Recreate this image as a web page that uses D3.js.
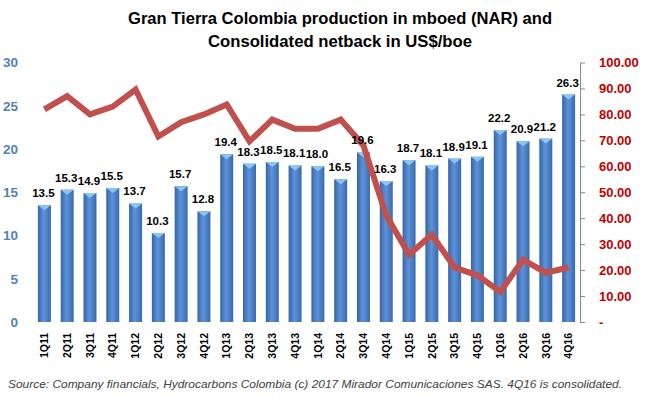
<!DOCTYPE html>
<html>
<head>
<meta charset="utf-8">
<script src="https://cdn.jsdelivr.net/npm/d3@7"></script>
<style>
  html, body { margin: 0; padding: 0; background: #fff; }
  svg { display: block; }
</style>
</head>
<body>
<svg id="chart" width="649" height="397"></svg>
<script>
const quarters = ["1Q11","2Q11","3Q11","4Q11","1Q12","2Q12","3Q12","4Q12","1Q13","2Q13","3Q13","4Q13",
                  "1Q14","2Q14","3Q14","4Q14","1Q15","2Q15","3Q15","4Q15","1Q16","2Q16","3Q16","4Q16"];
const production = [13.5,15.3,14.9,15.5,13.7,10.3,15.7,12.8,19.4,18.3,18.5,18.1,
                    18.0,16.5,19.6,16.3,18.7,18.1,18.9,19.1,22.2,20.9,21.2,26.3];
const netback = [81.9,87.0,80.0,83.0,89.6,71.5,77.0,80.0,83.8,69.6,78.0,74.5,
                 74.5,78.0,68.0,41.0,26.0,33.6,21.0,18.0,11.6,24.0,19.0,21.0];
const leftTicks = [0,5,10,15,20,25,30];
const rightTicks = [0,10,20,30,40,50,60,70,80,90,100];
const titleLines = ["Gran Tierra Colombia production in mboed (NAR) and", "Consolidated netback in US$/boe"];
const footnote = "Source:  Company financials, Hydrocarbons  Colombia (c) 2017 Mirador  Comunicaciones SAS. 4Q16 is consolidated.";

const svg = d3.select("#chart");
const plot = {left: 33, right: 580, top: 62.5, bottom: 322};

const x = d3.scaleBand().domain(quarters).range([plot.left, plot.right])
  .paddingInner(0.43).paddingOuter(0.215);
const yL = d3.scaleLinear().domain([0, 30]).range([plot.bottom, plot.top]);
const yR = d3.scaleLinear().domain([0, 100]).range([plot.bottom, plot.top]);

// gradient for bars
const defs = svg.append("defs");
const grad = defs.append("linearGradient").attr("id", "barGrad").attr("x1", "0").attr("x2", "1").attr("y1", "0").attr("y2", "0");
grad.append("stop").attr("offset", "0%").attr("stop-color", "#3565A8");
grad.append("stop").attr("offset", "45%").attr("stop-color", "#5E92D8");
grad.append("stop").attr("offset", "100%").attr("stop-color", "#3A6AAE");

// title
svg.append("g").selectAll("text").data(titleLines).join("text")
  .attr("x", 340).attr("y", (d, i) => 24 + i * 23)
  .attr("text-anchor", "middle")
  .attr("font-family", "'Liberation Sans', Arial, sans-serif")
  .attr("font-weight", "bold").attr("font-size", 16.5)
  .attr("textLength", (d, i) => i === 0 ? 424 : 264)
  .attr("lengthAdjust", "spacingAndGlyphs")
  .attr("fill", "#000")
  .text(d => d);

// bars
const bw = x.bandwidth();
svg.append("g").selectAll("rect").data(production).join("rect")
  .attr("x", (d, i) => x(quarters[i]))
  .attr("y", d => yL(d))
  .attr("width", bw)
  .attr("height", d => yL(0) - yL(d))
  .attr("fill", "url(#barGrad)");

// top bevel caps
svg.append("g").selectAll("path").data(production).join("path")
  .attr("d", (d, i) => {
    const x0 = x(quarters[i]), top = yL(d);
    return `M${x0},${top}L${x0 + bw},${top}L${x0 + bw / 2},${top + 5}Z`;
  })
  .attr("fill", "#8CC6F0");

// line
const line = d3.line()
  .x((d, i) => x(quarters[i]) + bw / 2)
  .y(d => yR(d));
svg.append("path").datum(netback)
  .attr("d", line)
  .attr("fill", "none")
  .attr("stroke", "#C0504D")
  .attr("stroke-width", 6)
  .attr("stroke-linejoin", "miter");

// bar labels
svg.append("g").selectAll("text").data(production).join("text")
  .attr("x", (d, i) => x(quarters[i]) + bw / 2 - 1)
  .attr("y", d => yL(d) - 8)
  .attr("text-anchor", "middle")
  .attr("font-family", "'Liberation Sans', Arial, sans-serif")
  .attr("font-weight", "bold").attr("font-size", 11.5)
  .attr("fill", "#000")
  .text(d => d.toFixed(1));

// left axis (labels only)
const leftAxis = d3.axisLeft(yL).tickValues(leftTicks).tickSize(0).tickPadding(0).tickFormat(d3.format("d"));
const gL = svg.append("g").attr("transform", "translate(18,0)").call(leftAxis);
gL.select(".domain").remove();
gL.selectAll("text")
  .attr("font-family", "'Liberation Sans', Arial, sans-serif")
  .attr("font-weight", "bold").attr("font-size", 13.5)
  .attr("fill", "#4F81BD");

// right axis
const rightAxis = d3.axisRight(yR).tickValues(rightTicks).tickSizeInner(5).tickSizeOuter(0).tickPadding(14)
  .tickFormat(d => d === 0 ? "-" : d3.format(".2f")(d));
const gR = svg.append("g").attr("transform", `translate(${plot.right},0)`).call(rightAxis);
gR.select(".domain").attr("stroke", "#888");
gR.selectAll(".tick line").attr("stroke", "#888");
gR.selectAll("text")
  .attr("font-family", "'Liberation Sans', Arial, sans-serif")
  .attr("font-weight", "bold").attr("font-size", 13)
  .attr("fill", "#C00000");

// x axis labels
const xAxis = d3.axisBottom(x).tickSize(0).tickPadding(0);
const gX = svg.append("g").attr("transform", `translate(0,${plot.bottom})`).call(xAxis);
gX.select(".domain").remove();
gX.selectAll("text")
  .attr("transform", "rotate(-90)")
  .attr("x", -11).attr("y", 0).attr("dy", "0.35em")
  .attr("text-anchor", "end")
  .attr("font-family", "'Liberation Sans', Arial, sans-serif")
  .attr("font-weight", "bold").attr("font-size", 10.5)
  .attr("fill", "#000");

// footnote
svg.append("text")
  .attr("x", 8).attr("y", 388)
  .attr("font-family", "'Liberation Sans', Arial, sans-serif")
  .attr("font-style", "italic").attr("font-size", 11)
  .attr("textLength", 614).attr("lengthAdjust", "spacingAndGlyphs")
  .attr("fill", "#404040")
  .text(footnote);
</script>
</body>
</html>
